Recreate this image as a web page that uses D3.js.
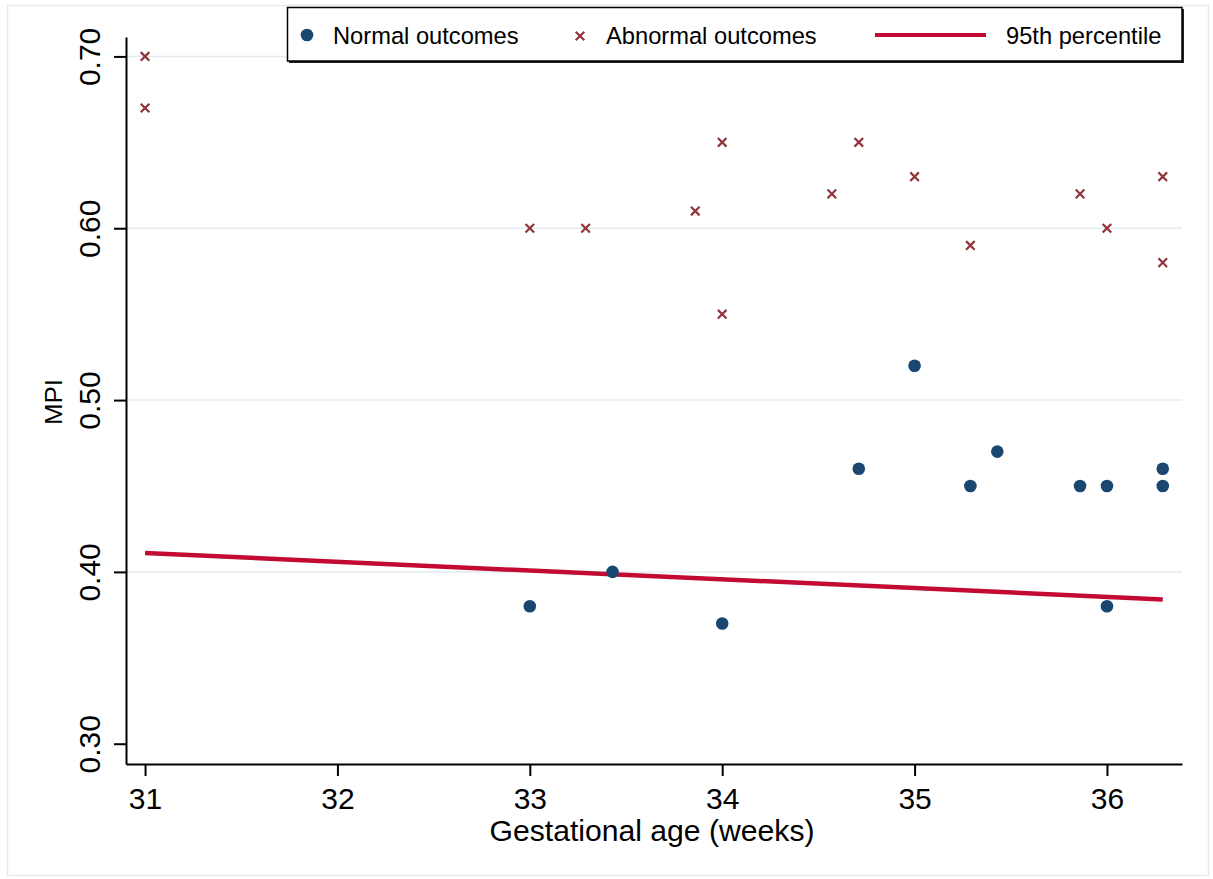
<!DOCTYPE html>
<html>
<head>
<meta charset="utf-8">
<script src="https://cdn.jsdelivr.net/npm/d3@7"></script>
<style>
  html, body { margin: 0; padding: 0; background: #ffffff; }
  svg { display: block; }
  text { font-family: "Liberation Sans", Arial, sans-serif; fill: #000; }
</style>
</head>
<body>
<svg id="chart" width="1213" height="879"></svg>
<script>
// ---- data ----
const normalX = [33, 33.43, 34, 34.71, 35, 35.29, 35.43, 35.86, 36, 36, 36.29, 36.29];
const normalY = [0.38, 0.40, 0.37, 0.46, 0.52, 0.45, 0.47, 0.45, 0.45, 0.38, 0.46, 0.45];

const abnormalX = [31, 31, 33, 33.29, 33.86, 34, 34, 34.57, 34.71, 35, 35.29, 35.86, 36, 36.29, 36.29];
const abnormalY = [0.70, 0.67, 0.60, 0.60, 0.61, 0.65, 0.55, 0.62, 0.65, 0.63, 0.59, 0.62, 0.60, 0.63, 0.58];

const pctX = [31, 36.29];
const pctY = [0.411, 0.384];

const xTicks = [31, 32, 33, 34, 35, 36];
const yTicks = [0.30, 0.40, 0.50, 0.60, 0.70];
const gridTicks = [0.40, 0.50, 0.60, 0.70];

const legendLabels = ["Normal outcomes", "Abnormal outcomes", "95th percentile"];

// ---- styles ----
const navy = "#1a476f";
const maroon = "#90353b";
const red = "#c20a32";
const gridColor = "#e2ecf1";

const svg = d3.select("#chart");

// outer frame
svg.append("rect")
  .attr("x", 7.5).attr("y", 5.5).attr("width", 1201).attr("height", 870)
  .attr("fill", "none").attr("stroke", "#e3ebf0").attr("stroke-width", 1.5);

const x = d3.scaleLinear().domain([30.901, 36.39]).range([126, 1182]);
const y = d3.scaleLinear().domain([0.2882, 0.7113]).range([764, 37]);

// gridlines
svg.append("g").selectAll("line").data(gridTicks).join("line")
  .attr("x1", x.range()[0]).attr("x2", x.range()[1])
  .attr("y1", d => y(d)).attr("y2", d => y(d))
  .attr("stroke", gridColor).attr("stroke-width", 1.5);

// axes
const yAxis = svg.append("g")
  .attr("transform", `translate(${x.range()[0]},0)`)
  .call(d3.axisLeft(y).tickValues(yTicks).tickFormat(d3.format(".2f")).tickSize(12).tickSizeOuter(0));
yAxis.selectAll("text")
  .attr("transform", "rotate(-90)")
  .attr("x", 0).attr("y", -26).attr("dy", 0)
  .attr("text-anchor", "middle")
  .style("font-size", "30px").style("font-family", "'Liberation Sans', Arial, sans-serif");

const xAxis = svg.append("g")
  .attr("transform", `translate(0,${y.range()[0]})`)
  .call(d3.axisBottom(x).tickValues(xTicks).tickFormat(d3.format("d")).tickSize(12).tickPadding(12).tickSizeOuter(0));
xAxis.selectAll("text")
  .style("font-size", "30px").style("font-family", "'Liberation Sans', Arial, sans-serif");

[xAxis, yAxis].forEach(a => {
  a.select(".domain").attr("stroke", "#000").attr("stroke-width", 2);
  a.selectAll(".tick line").attr("stroke", "#000").attr("stroke-width", 2);
  a.selectAll("text").attr("fill", "#000");
});

// axis titles
svg.append("text")
  .attr("x", 652).attr("y", 841)
  .attr("text-anchor", "middle")
  .style("font-size", "30px")
  .attr("textLength", 325).attr("lengthAdjust", "spacingAndGlyphs")
  .text("Gestational age (weeks)");

svg.append("text")
  .attr("transform", `translate(62,402) rotate(-90)`)
  .attr("text-anchor", "middle")
  .attr("textLength", 46).attr("lengthAdjust", "spacingAndGlyphs")
  .style("font-size", "23px")
  .text("MPI");

// percentile line
const pct = pctX.map((d, i) => [d, pctY[i]]);
svg.append("path")
  .datum(pct)
  .attr("d", d3.line().x(d => x(d[0])).y(d => y(d[1])))
  .attr("fill", "none").attr("stroke", red).attr("stroke-width", 4.5);

// normal outcomes
svg.append("g").selectAll("circle")
  .data(normalX.map((d, i) => [d, normalY[i]]))
  .join("circle")
  .attr("cx", d => x(d[0])).attr("cy", d => y(d[1]))
  .attr("r", 6.3).attr("fill", navy);

// abnormal outcomes
const xm = 4.3;
const crosses = svg.append("g").selectAll("g")
  .data(abnormalX.map((d, i) => [d, abnormalY[i]]))
  .join("g")
  .attr("transform", d => `translate(${x(d[0])},${y(d[1])})`);
crosses.append("path")
  .attr("d", `M${-xm},${-xm}L${xm},${xm}M${-xm},${xm}L${xm},${-xm}`)
  .attr("stroke", maroon).attr("stroke-width", 2.2).attr("fill", "none");

// legend
const lg = svg.append("g");
lg.append("rect").attr("x", 289).attr("y", 9).attr("width", 895).attr("height", 54).attr("fill", "#222");
lg.append("rect").attr("x", 287.5).attr("y", 7.5).attr("width", 894.5).attr("height", 53.5)
  .attr("fill", "#fff").attr("stroke", "#000").attr("stroke-width", 1.5);

const ly = 35;
lg.append("circle").attr("cx", 307).attr("cy", ly).attr("r", 6.3).attr("fill", navy);
lg.append("text").attr("x", 333).attr("y", 44).style("font-size", "23.7px").text(legendLabels[0]);

lg.append("path")
  .attr("d", `M${580 - xm},${ly + 1 - xm}L${580 + xm},${ly + 1 + xm}M${580 - xm},${ly + 1 + xm}L${580 + xm},${ly + 1 - xm}`)
  .attr("stroke", maroon).attr("stroke-width", 2.2);
lg.append("text").attr("x", 606).attr("y", 44).style("font-size", "23.7px").text(legendLabels[1]);

lg.append("line").attr("x1", 875).attr("x2", 986).attr("y1", ly).attr("y2", ly)
  .attr("stroke", red).attr("stroke-width", 4);
lg.append("text").attr("x", 1006).attr("y", 44).style("font-size", "23.7px").text(legendLabels[2]);
</script>
</body>
</html>
